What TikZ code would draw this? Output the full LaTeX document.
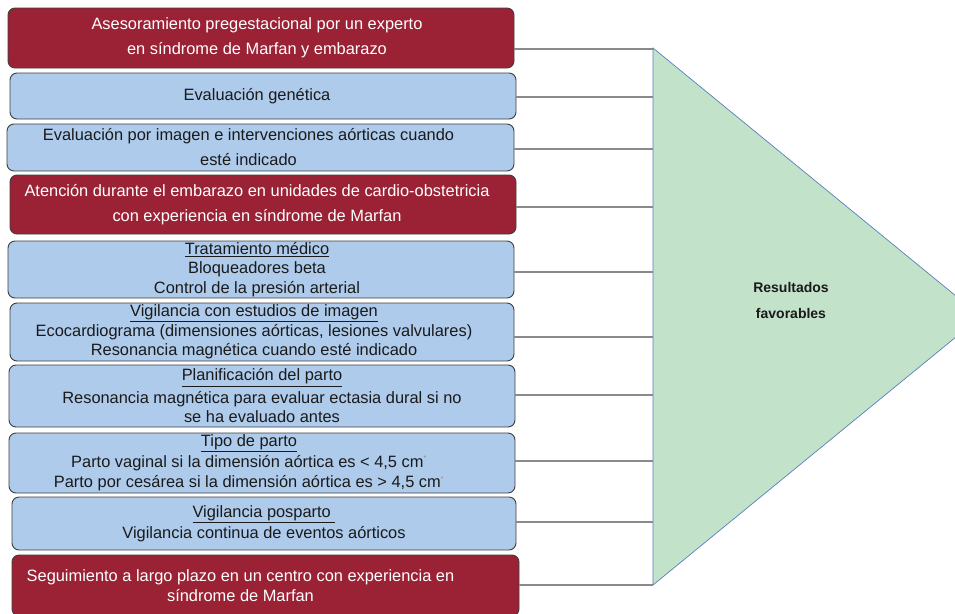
\documentclass[tikz,border=0pt]{standalone}
\usepackage{fontspec}
\setmainfont{Liberation Sans}
\usepackage{xcolor}
\definecolor{myred}{HTML}{9B2235}
\definecolor{myblue}{HTML}{AECBEB}
\definecolor{mygreen}{HTML}{C3E2CA}
\definecolor{myedge}{HTML}{5B7DBD}
\definecolor{boxline}{HTML}{3F3F3F}
\definecolor{mygray}{HTML}{8A8A8A}
\definecolor{mytext}{HTML}{1A1A1A}
\tikzset{
  box/.style={draw=boxline, line width=0.9pt, rounded corners=7pt, align=center, inner sep=0pt,
    font=\fontsize{16.4}{19.5}\selectfont},
  box red/.style={box, fill=myred, text=white},
  box blue/.style={box, fill=myblue, text=mytext},
  connect/.style={line width=1.1pt, mygray},
  res text/.style={align=center, text=mytext, font=\fontsize{14}{26}\selectfont\bfseries}
}
\newcommand{\fnmark}{{\color{black!45}\textsuperscript{\scriptsize*}}}
% invisible pad so a line sits a bit left of the box centre
\newcommand{\padr}[1]{\rule{#1}{0pt}}

\begin{document}
\begin{tikzpicture}[x=1pt,y=-1pt]
  \clip (0,0) rectangle (955,613);

  % --- OUTCOME TRIANGLE ---
  \draw[myedge, line width=0.7pt, fill=mygreen] (653,48) -- (981,316.5) -- (653,585) -- cycle;
  \node[res text] (res) at (791,300) {Resultados\\favorables};

  % --- LEFT COLUMN: STEPS ---
  \node[box red, minimum width=506, minimum height=60] (B1) at (261,38)
    {Asesoramiento pregestacional por un experto\padr{8pt}\\[5.5pt]en síndrome de Marfan y embarazo\padr{8pt}};
  \node[box blue, minimum width=506, minimum height=46] (B2) at (263,96)
    {Evaluación genética\padr{12pt}};
  \node[box blue, minimum width=507, minimum height=47] (B3) at (260.5,147.5)
    {Evaluación por imagen e intervenciones aórticas cuando\padr{24pt}\\[5.5pt]esté indicado\padr{24pt}};
  \node[box red, minimum width=506, minimum height=59] (B4) at (263,204.5)
    {Atención durante el embarazo en unidades de cardio-obstetricia\padr{12pt}\\[5.5pt]con experiencia en síndrome de Marfan\padr{12pt}};
  \node[box blue, minimum width=506, minimum height=57] (B5) at (261,269.5)
    {\underline{Tratamiento médico}\padr{8pt}\\Bloqueadores beta\padr{8pt}\\Control de la presión arterial\padr{8pt}};
  \node[box blue, minimum width=504, minimum height=58] (B6) at (262,332)
    {\underline{Vigilancia con estudios de imagen}\padr{16pt}\\Ecocardiograma (dimensiones aórticas, lesiones valvulares)\padr{16pt}\\Resonancia magnética cuando esté indicado\padr{16pt}};
  \node[box blue, minimum width=506, minimum height=62] (B7) at (262,396)
    {\underline{Planificación del parto}\\[3pt]Resonancia magnética para evaluar ectasia dural si no\\se ha evaluado antes};
  \node[box blue, minimum width=506, minimum height=60] (B8) at (262,463)
    {\underline{Tipo de parto}\padr{26pt}\\[1pt]Parto vaginal si la dimensión aórtica es < 4,5 cm\fnmark\padr{26pt}\\[1pt]Parto por cesárea si la dimensión aórtica es > 4,5 cm\fnmark\padr{26pt}};
  \node[box blue, minimum width=504, minimum height=53] (B9) at (264,523.5)
    {\underline{Vigilancia posparto\ }\\[1.5pt]Vigilancia continua de eventos aórticos};
  \node[box red, minimum width=507, minimum height=61] (B10) at (265.5,585.5)
    {Seguimiento a largo plazo en un centro con experiencia en\padr{50pt}\\síndrome de Marfan\padr{50pt}};

  % --- CONNECTIONS: STEPS -> TRIANGLE ---
  \foreach \i/\y in {1/49,2/97,3/149,4/207,5/272,6/337,7/395,8/461,9/522,10/585} {
    \coordinate (T\i) at (653,\y);
    \draw[connect] (B\i.east |- T\i) -- (T\i);
  }

\end{tikzpicture}
\end{document}
